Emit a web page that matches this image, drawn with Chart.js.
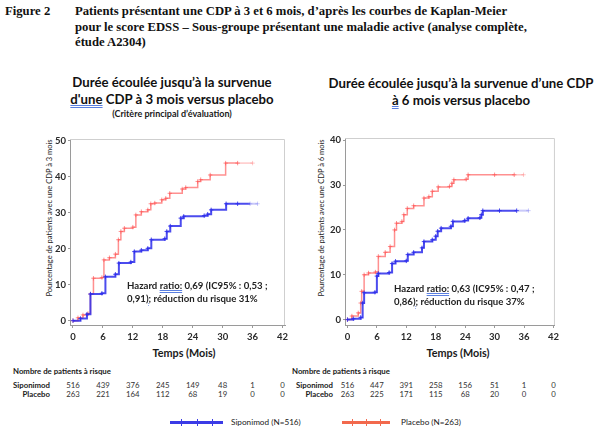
<!DOCTYPE html>
<html lang="fr">
<head>
<meta charset="utf-8">
<script src="https://cdn.jsdelivr.net/npm/chart.js@4.4.1/dist/chart.umd.min.js"></script>
<style>
  body{margin:0;background:#fff;width:598px;height:437px;position:relative;overflow:hidden;
       font-family:Lato,"Open Sans",sans-serif;color:#1a1a1a}
  .abs{position:absolute;white-space:nowrap}
  .head{font:bold 12.7px/15.5px "Liberation Serif","Times New Roman",serif;color:#111}
  .ttl{font:bold 13.2px/16.5px Lato,sans-serif;text-align:center;color:#111}
  .sub{font:bold 9px Lato,sans-serif;text-align:center}
  .ytl{font:7.5px Lato,sans-serif;transform:translate(-50%,-50%) rotate(-90deg);color:#222}
  .xtl{font:bold 10.8px Lato,sans-serif;transform:translateX(-50%)}
  .hr{font:bold 9.6px/12.5px Lato,sans-serif;color:#222}
  .sp{text-decoration:underline double #5a7fe0;text-underline-offset:1px}
  .rk{font:7.8px Lato,sans-serif;transform:translate(-50%,-50%);color:#333}
  .rl{font:bold 7.8px Lato,sans-serif;transform:translate(-100%,-50%)}
  .rh{font:bold 7.8px Lato,sans-serif;transform:translateY(-50%)}
  .lg{font:8.2px Lato,sans-serif;transform:translateY(-50%)}
  .lgline{position:absolute;height:2.5px}
  .lgline i{position:absolute;top:-2.5px;width:1.3px;height:7.5px}
  canvas{position:absolute}
</style>
</head>
<body>
<div class="abs head" style="left:5px;top:4px">Figure 2</div>
<div class="abs head" style="left:75px;top:4px">Patients présentant une CDP à 3 et 6 mois, d’après les courbes de Kaplan-Meier<br>pour le score EDSS – Sous-groupe présentant une maladie active (analyse complète,<br>étude A2304)</div>

<div class="abs ttl" style="left:172px;top:74px;transform:translateX(-50%)">Durée écoulée jusqu’à la survenue<br><span class="sp">d'une</span> CDP à 3 mois versus placebo</div>
<div class="abs sub" style="left:172px;top:108px;transform:translateX(-50%)">(Critère principal d’évaluation)</div>
<div class="abs ttl" style="left:461px;top:75px;transform:translateX(-50%)">Durée écoulée jusqu’à la survenue d’une CDP<br><span class="sp">à</span> 6 mois versus placebo</div>

<div class="abs ytl" style="left:49px;top:218px">Pourcentage de patients avec une CDP à 3 mois</div>
<div class="abs ytl" style="left:321px;top:218px">Pourcentage de patients avec une CDP à 6 mois</div>

<canvas id="c3" width="272" height="215" style="left:20px;top:131px"></canvas>
<canvas id="c6" width="262" height="216" style="left:300px;top:130px"></canvas>

<div class="abs hr" style="left:127px;top:280px">Hazard <span class="sp">ratio:</span> 0,69 (IC95% : 0,53 ;<br>0,91<span class="sp">)</span>; réduction du risque 31%</div>
<div class="abs hr" style="left:394px;top:283px">Hazard <span class="sp">ratio:</span> 0,63 (IC95% : 0,47 ;<br>0,86<span class="sp">)</span>; réduction du risque 37%</div>

<div class="abs xtl" style="left:184px;top:346px">Temps (Mois)</div>
<div class="abs xtl" style="left:458px;top:346px">Temps (Mois)</div>

<div id="risk"></div>
<div id="legend"></div>

<script>
// x ticks (months) and y ticks for the two panels
const monthTicks = [0, 6, 12, 18, 24, 30, 36, 42];
const yTicks3 = [0, 10, 20, 30, 40, 50];
const yTicks6 = [0, 10, 20, 30, 40];

// Kaplan-Meier, CDP confirmee a 3 mois
const cdp3SipT = [0, 1.5, 2.8, 3.5, 5.8, 6.5, 8.5, 9.2, 11.6, 12.3, 13.7, 15, 15.7, 18.4, 18.8, 19.5, 21.6, 22.2, 26.3, 27, 27.7, 30.7, 33, 35.5, 37];
const cdp3SipY = [0, 0.6, 1.8, 7.4, 7.6, 12.2, 12.9, 16, 16.3, 19.2, 19.6, 20.1, 22.5, 22.8, 24.8, 26.3, 28.5, 29, 29.2, 29.6, 30.8, 32.5, 32.5, 32.5, 32.5];
const cdp3PlaT = [0, 1, 2, 3, 3.5, 4.1, 5.8, 6.2, 7.3, 8.5, 9.1, 9.6, 10.3, 12, 12.6, 13.7, 15, 15.6, 16.4, 17.8, 18.6, 19.4, 21.9, 22.6, 25, 25.6, 27.5, 30.6, 33, 36];
const cdp3PlaY = [0, 0.8, 1.6, 2, 7.4, 11.8, 12, 16.9, 17.5, 18.5, 22.5, 24.8, 25.7, 26, 29.4, 30.3, 30.8, 32.5, 32.7, 33.6, 34, 35.4, 36.6, 37, 38.7, 39.2, 40.5, 43.8, 43.8, 43.8];

// Kaplan-Meier, CDP confirmee a 6 mois
const cdp6SipT = [0, 1.2, 2.7, 3.1, 3.4, 5.6, 6, 6.3, 8.5, 9.1, 9.8, 12, 12.3, 13.5, 15.2, 15.6, 17.3, 18, 18.4, 19.1, 21.1, 21.5, 23.9, 24.6, 27, 27.3, 27.6, 31, 34.5, 36.9];
const cdp6SipY = [0, 0.2, 0.5, 3.7, 6, 6.1, 9.7, 10.3, 10.5, 12.5, 13, 13.1, 14.5, 15, 16, 17.4, 17.8, 18.6, 19.7, 20.4, 20.8, 21.9, 22.1, 22.6, 22.7, 23.4, 24.3, 24.3, 24.3, 24.3];
const cdp6PlaT = [0, 0.9, 2.2, 2.7, 2.9, 3.4, 4.3, 5.7, 6.3, 7.7, 8.7, 9.6, 10, 11.1, 11.5, 12.2, 13.5, 15.6, 16.6, 17.3, 18.5, 20.8, 21.3, 21.7, 24.2, 24.6, 30, 34, 35.9];
const cdp6PlaY = [0, 0.8, 1.5, 3.7, 6.3, 10, 10.4, 10.6, 14.1, 15, 16.3, 20, 21.5, 21.9, 23.4, 24.8, 25.4, 27.1, 27.4, 28.6, 29.6, 29.7, 30.4, 31.2, 31.3, 32.3, 32.3, 32.3, 32.3];

// patients a risque at each month tick
const risk3Sip = [516, 439, 376, 245, 149, 48, 1, 0];
const risk3Pla = [263, 221, 164, 112, 68, 19, 0, 0];
const risk6Sip = [516, 447, 391, 258, 156, 51, 1, 0];
const risk6Pla = [263, 225, 171, 115, 68, 20, 0, 0];

const armNames = ['Siponimod', 'Placebo'];
const legendNames = ['Siponimod (N=516)', 'Placebo (N=263)'];

/* ---------- styles ---------- */
const BLUE = 'rgba(45,45,235,0.85)', BLUE_TAIL = 'rgba(120,120,240,0.4)';
const RED = 'rgba(255,85,85,0.65)', RED_TAIL = 'rgba(255,130,130,0.45)';
const LG_BLUE = '#3b3be6', LG_RED = '#f2694d';
const tickFont = {family: 'Lato', weight: 'bold', size: 9.5};

const pts = (t, y) => t.map((v, i) => ({x: v, y: y[i]}));

const framePlugin = {
  id: 'frame',
  beforeDatasetsDraw(chart){
    const {ctx, chartArea: a} = chart;
    ctx.save();
    ctx.strokeStyle = '#cfcfcf';
    ctx.lineWidth = 1;
    ctx.beginPath();
    ctx.moveTo(a.left, a.top + 0.5);
    ctx.lineTo(a.right - 0.5, a.top + 0.5);
    ctx.lineTo(a.right - 0.5, a.bottom);
    ctx.stroke();
    ctx.restore();
  }
};

function kmSet(t, y, color, tail, tailFrom, width){
  return {
    data: pts(t, y),
    stepped: true,
    borderColor: color,
    borderWidth: width,
    pointStyle: 'cross',
    pointRadius: 2.2,
    pointBorderWidth: 1,
    pointBorderColor: c => (c.parsed && c.parsed.x > tailFrom) ? tail : color,
    pointBackgroundColor: 'transparent',
    segment: {borderColor: c => c.p0.parsed.x >= tailFrom ? tail : undefined}
  };
}

function makeKM(id, o){
  return new Chart(document.getElementById(id), {
    type: 'line',
    data: {datasets: [
      kmSet(o.sipT, o.sipY, BLUE, BLUE_TAIL, o.sipTail, 2),
      kmSet(o.plaT, o.plaY, RED, RED_TAIL, o.plaTail, 1.5)
    ]},
    options: {
      responsive: false,
      animation: false,
      layout: {padding: {top: o.padTop, right: o.padRight, left: 0, bottom: 0}},
      plugins: {legend: {display: false}, tooltip: {enabled: false}},
      scales: {
        x: {
          type: 'linear', min: o.xMin, max: o.xMax,
          afterBuildTicks: s => { s.ticks = monthTicks.map(v => ({value: v})); },
          afterFit: s => { s.height = o.xH; },
          grid: {drawOnChartArea: false, tickLength: 3, color: '#9a9a9a'},
          border: {color: '#9a9a9a'},
          ticks: {font: tickFont, color: '#2a2a2a', padding: 3, maxRotation: 0, autoSkip: false}
        },
        y: {
          min: o.yMin, max: o.yMax,
          afterBuildTicks: s => { s.ticks = o.yTicks.map(v => ({value: v})); },
          afterFit: s => { s.width = o.yW; },
          grid: {drawOnChartArea: false, tickLength: 2, color: '#9a9a9a'},
          border: {color: '#9a9a9a'},
          ticks: {font: tickFont, color: '#2a2a2a', padding: 2, autoSkip: false}
        }
      }
    },
    plugins: [framePlugin]
  });
}

const ch3 = makeKM('c3', {
  sipT: cdp3SipT, sipY: cdp3SipY, plaT: cdp3PlaT, plaY: cdp3PlaY,
  sipTail: 34, plaTail: 33,
  xMin: -0.6, xMax: 42.5, yMin: -1.2, yMax: 50.5, yTicks: yTicks3,
  padTop: 8, padRight: 7, xH: 21, yW: 50
});
const ch6 = makeKM('c6', {
  sipT: cdp6SipT, sipY: cdp6SipY, plaT: cdp6PlaT, plaY: cdp6PlaY,
  sipTail: 34.5, plaTail: 34,
  xMin: -0.5, xMax: 42.3, yMin: -1.2, yMax: 40.5, yTicks: yTicks6,
  padTop: 8, padRight: 5, xH: 21, yW: 45
});

/* ---------- risk table, columns follow each chart's x scale ---------- */
function riskTable(chart, labelRight, headLeft, rows){
  const cv = chart.canvas, sc = chart.scales.x;
  let h = `<div class="abs rh" style="left:${headLeft}px;top:371px">Nombre de patients à risque</div>`;
  rows.forEach((r, k) => {
    const y = 385 + k * 8.7;
    h += `<div class="abs rl" style="left:${labelRight}px;top:${y}px">${armNames[k]}</div>`;
    r.forEach((n, i) => {
      const x = cv.offsetLeft + sc.getPixelForValue(monthTicks[i]);
      h += `<div class="abs rk" style="left:${x}px;top:${y}px">${n}</div>`;
    });
  });
  return h;
}
document.getElementById('risk').innerHTML =
  riskTable(ch3, 50, 13, [risk3Sip, risk3Pla]) +
  riskTable(ch6, 333, 292, [risk6Sip, risk6Pla]);

/* ---------- legend ---------- */
function lgItem(x, w, color, textX, name){
  return `<div class="lgline" style="left:${x}px;top:421px;width:${w}px;background:${color}">` +
    [0.2, 0.5, 0.8].map(f => `<i style="left:${Math.round(w * f)}px;background:${color}"></i>`).join('') +
    `</div><div class="abs lg" style="left:${textX}px;top:422px">${name}</div>`;
}
document.getElementById('legend').innerHTML =
  lgItem(170, 53, LG_BLUE, 231, legendNames[0]) +
  lgItem(342, 48, LG_RED, 401, legendNames[1]);
</script>
</body>
</html>
